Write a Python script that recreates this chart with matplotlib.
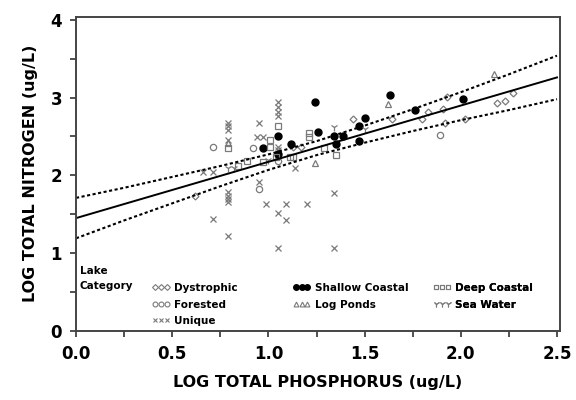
import numpy as np
import matplotlib
matplotlib.use('Agg')
import matplotlib.pyplot as plt
from matplotlib.lines import Line2D

# points (log P, log N) for each lake category
dys_x = [0.62, 1.13, 1.17, 1.44, 1.64, 1.80, 1.83, 1.91, 1.93, 1.92, 2.02, 2.19, 2.23, 2.27]
dys_y = [1.73, 2.36, 2.36, 2.72, 2.73, 2.73, 2.81, 2.86, 3.01, 2.68, 2.73, 2.93, 2.96, 3.06]

for_x = [0.71, 0.92, 0.95, 1.05, 1.05, 1.89]
for_y = [2.36, 2.35, 1.83, 2.25, 2.19, 2.52]

uni_x = [0.79, 0.79, 0.79, 0.79, 0.95, 0.94, 0.97, 1.05, 1.05, 1.05, 1.05, 1.05, 1.05,
         1.14, 0.66, 0.71, 0.79, 0.79, 0.79, 0.79, 0.71, 0.79, 0.95, 0.99, 1.09,
         1.05, 1.09, 1.20, 1.34, 1.05, 1.34]
uni_y = [2.68, 2.63, 2.58, 2.45, 2.68, 2.49, 2.49, 2.94, 2.88, 2.81, 2.76, 2.36, 2.33,
         2.10, 2.04, 2.04, 1.78, 1.74, 1.70, 1.66, 1.44, 1.22, 1.92, 1.63, 1.63,
         1.51, 1.43, 1.63, 1.77, 1.07, 1.07]

sha_x = [0.97, 1.05, 1.05, 1.12, 1.24, 1.26, 1.34, 1.39, 1.35, 1.47, 1.50, 1.47, 1.63, 1.76, 2.01]
sha_y = [2.35, 2.50, 2.28, 2.40, 2.94, 2.56, 2.50, 2.50, 2.40, 2.64, 2.74, 2.44, 3.03, 2.84, 2.98]

log_x = [0.79, 1.24, 1.62, 2.17]
log_y = [2.41, 2.16, 2.92, 3.30]

dee_x = [0.79, 1.01, 1.01, 1.05, 1.21, 1.21, 1.35, 1.29, 0.97, 1.04, 1.11, 1.13, 0.84, 0.89]
dee_y = [2.35, 2.45, 2.36, 2.63, 2.54, 2.49, 2.26, 2.35, 2.17, 2.23, 2.23, 2.23, 2.12, 2.19]

sea_x = [1.34, 1.50, 0.79, 0.82, 1.00]
sea_y = [2.62, 2.60, 2.09, 2.09, 2.20]

# regression line and band, read at x steps
fit_x = [0.0, 2.5]
fit_y = [1.45, 3.26]
band_x = [0.0, 0.25, 0.5, 0.75, 1.0, 1.25, 1.5, 1.75, 2.0, 2.25, 2.5]
band_hi = [1.71, 1.84, 1.98, 2.12, 2.27, 2.44, 2.64, 2.85, 3.07, 3.30, 3.54]
band_lo = [1.19, 1.42, 1.64, 1.86, 2.07, 2.26, 2.42, 2.57, 2.71, 2.84, 2.98]

plt.rcParams['font.family'] = 'DejaVu Sans'
plt.rcParams['font.weight'] = 'bold'

fig = plt.figure(figsize=(5.76, 4.0), dpi=100)
ax = fig.add_axes([0.132, 0.173, 0.840, 0.785])

gray = '#7a7a7a'
ms = 4.5
ax.plot(dys_x, dys_y, 'D', ms=3.5, mfc='none', mec=gray, mew=0.9, ls='none')
ax.plot(for_x, for_y, 'o', ms=ms, mfc='none', mec=gray, mew=0.9, ls='none')
ax.plot(uni_x, uni_y, 'x', ms=ms, color=gray, mew=0.9, ls='none')
ax.plot(sha_x, sha_y, 'o', ms=ms + 0.5, color='black', ls='none')
ax.plot(log_x, log_y, '^', ms=ms, mfc='none', mec=gray, mew=0.9, ls='none')
ax.plot(dee_x, dee_y, 's', ms=ms, mfc='none', mec=gray, mew=0.9, ls='none')
ax.plot(sea_x, sea_y, '1', ms=ms + 1, color=gray, mew=0.9, ls='none')

ax.plot(fit_x, fit_y, color='black', lw=1.4)
ax.plot(band_x, band_hi, color='black', lw=1.5, ls=(0, (1.5, 1.2)))
ax.plot(band_x, band_lo, color='black', lw=1.5, ls=(0, (1.5, 1.2)))

ax.set_xlim(0, 2.515)
ax.set_ylim(0, 4.04)
ax.set_xticks([0, 0.5, 1.0, 1.5, 2.0, 2.5])
ax.set_xticks(np.arange(0, 2.51, 0.25), minor=True)
ax.set_yticks([0, 1, 2, 3, 4])
ax.set_yticks(np.arange(0, 4.01, 0.5), minor=True)
ax.set_xticklabels(['0.0', '0.5', '1.0', '1.5', '2.0', '2.5'])
ax.tick_params(which='both', direction='out', length=4, width=1.2, color='#333333',
               labelsize=12, pad=6)
for s in ax.spines.values():
    s.set_color('#444444')
    s.set_linewidth(1.4)

ax.set_xlabel('LOG TOTAL PHOSPHORUS (ug/L)', fontsize=11.5, fontweight='bold', labelpad=9)
ax.set_ylabel('LOG TOTAL NITROGEN (ug/L)', fontsize=11.5, fontweight='bold', labelpad=9)

# legend block drawn inside the plot
ax.text(0.008, 0.205, 'Lake\nCategory', transform=ax.transAxes, fontsize=7.5,
        fontweight='bold', va='top', ha='left', linespacing=1.6)

def h(marker, **kw):
    return Line2D([], [], marker=marker, ls='none', **kw)

cols = [
    (0.157, [h('D', ms=3, mfc='none', mec=gray, mew=0.8),
             h('o', ms=3.5, mfc='none', mec=gray, mew=0.8),
             h('x', ms=3.5, color=gray, mew=0.8)],
     ['Dystrophic', 'Forested', 'Unique']),
    (0.448, [h('o', ms=4, color='black'),
             h('^', ms=3.5, mfc='none', mec=gray, mew=0.8)],
     ['Shallow Coastal', 'Log Ponds']),
    (0.738, [h('s', ms=3.5, mfc='none', mec=gray, mew=0.8),
             h('1', ms=4.5, color=gray, mew=0.8)],
     ['Deep Coastal', 'Sea Water']),
]
for xpos, handles, labels in cols:
    leg = ax.legend(handles, labels, loc='upper left', bbox_to_anchor=(xpos, 0.152),
                    frameon=False, numpoints=3, handlelength=1.7, handletextpad=0.4,
                    labelspacing=0.62, borderpad=0, borderaxespad=0,
                    prop={'size': 7.5, 'weight': 'bold'})
    ax.add_artist(leg)

fig.savefig('out.png', dpi=100, facecolor='white')
